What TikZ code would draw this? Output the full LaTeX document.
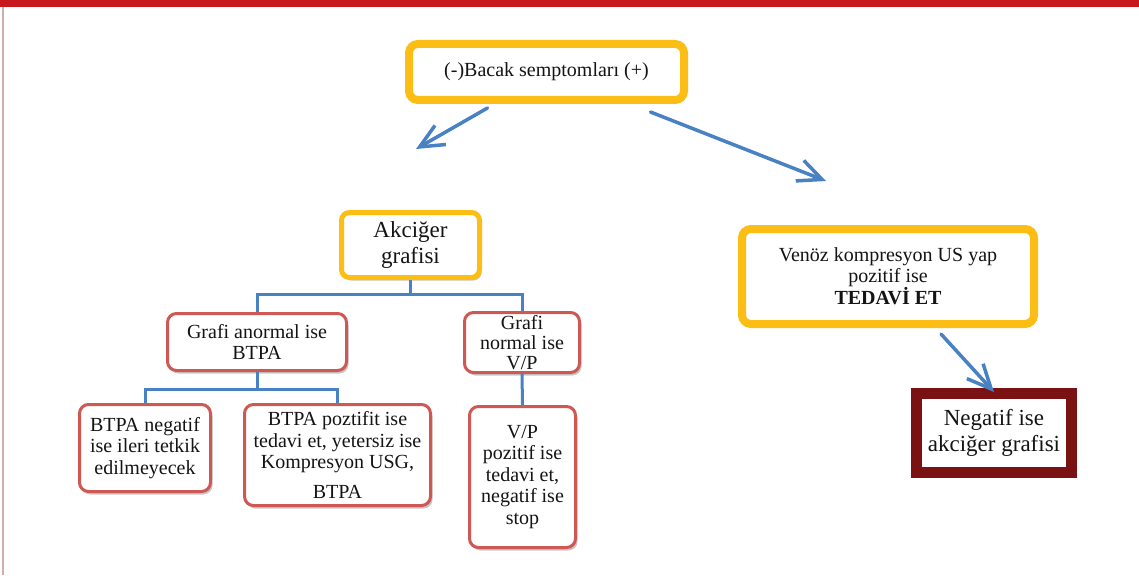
\documentclass[tikz,border=0pt]{standalone}
\usepackage{fontspec}
\setmainfont{Liberation Serif}
\usetikzlibrary{arrows.meta,shadows}
\definecolor{ybox}{RGB}{252,190,20}
\definecolor{rbox}{RGB}{205,88,84}
\definecolor{lblue}{RGB}{72,130,195}
\definecolor{dred}{RGB}{122,18,20}
\definecolor{topred}{RGB}{200,22,30}
\definecolor{txt}{RGB}{20,20,20}
\tikzset{
  shad/.style={drop shadow={shadow xshift=2pt,shadow yshift=-3pt,opacity=0.22,fill=black}},
  ynode/.style={draw=ybox,fill=white,rounded corners=9pt,inner sep=0pt,align=center,text=txt,shad},
  rnode/.style={draw=rbox,line width=3pt,fill=white,rounded corners=9pt,inner sep=0pt,align=center,text=txt,shad},
  tree/.style={draw=lblue,line width=3pt},
  arrline/.style={draw=lblue,line width=3.5pt,line cap=round,-{Straight Barb[length=24pt,width=22pt,line width=3.5pt]}},
  body/.style={font=\fontsize{20}{21.5}\selectfont},
}
\begin{document}
\begin{tikzpicture}[x=1pt,y=-1pt]
\useasboundingbox (0,0) rectangle (1139,575);
\fill[white] (0,0) rectangle (1139,575);
\fill[topred] (0,0) rectangle (1139,7);
\draw[color={rgb,255:red,205;green,175;blue,175},line width=1.5pt] (3,7) -- (3,575);

\node[ynode,line width=8pt,minimum width=275pt,minimum height=56pt,body] (top) at (546.5,72) {(-)Bacak semptomları (+)};

\node[ynode,line width=5pt,rounded corners=8pt,minimum width=138pt,minimum height=65pt,font=\fontsize{23}{26}\selectfont] (ak) at (410.5,245) {Akciğer\\grafisi};

\node[rnode,minimum width=179pt,minimum height=57pt,body] (ga) at (257,342) {Grafi anormal ise\\BTPA};
\node[rnode,minimum width=115pt,minimum height=60pt,body,font=\fontsize{20}{20}\selectfont] (gn) at (522,342.5) {Grafi\\normal ise\\V/P};

\node[rnode,minimum width=131pt,minimum height=87pt,body] (bn) at (145,448) {BTPA negatif\\ise ileri tetkik\\edilmeyecek};
\node[rnode,minimum width=186pt,minimum height=101pt,body] (bp) at (337.5,455) {BTPA poztifit ise\\tedavi et, yetersiz ise\\Kompresyon USG,\\[8pt]BTPA};
\node[rnode,minimum width=106pt,minimum height=141pt,body] (vp) at (522.5,477) {V/P\\pozitif ise\\tedavi et,\\negatif ise\\stop};

\node[ynode,line width=8pt,minimum width=292pt,minimum height=95pt,font=\fontsize{20}{21}\selectfont] (ven) at (888,276.5) {Venöz kompresyon US yap\\pozitif ise\\\textbf{TEDAVİ ET}};

\node[draw=dred,line width=11pt,fill=white,inner sep=0pt,minimum width=155pt,minimum height=79pt,align=center,text=txt,font=\fontsize{23}{26}\selectfont,shad] (neg) at (994,433) {Negatif ise\\akciğer grafisi};

% tree connectors
\draw[tree] (ak.south) -- ++(0,14) -| (ga.north);
\draw[tree] (ak.south) -- ++(0,14) -| (gn.north);
\draw[tree] (ga.south) -- ++(0,17.5) -| (bn.north);
\draw[tree] (ga.south) -- ++(0,17.5) -| (bp.north);
\draw[tree] (gn.south) -- (vp.north);

% arrows
\coordinate (l1) at (416,149);
\coordinate (r1) at (826,181);
\draw[arrline] ([xshift=-59pt,yshift=-4pt]top.south) -- (l1);
\draw[arrline] ([xshift=104pt,yshift=-8pt]top.south) -- (r1);
\draw[arrline] ([xshift=53pt,yshift=-6pt]ven.south) -- ([yshift=-4pt]neg.north);
\end{tikzpicture}
\end{document}
